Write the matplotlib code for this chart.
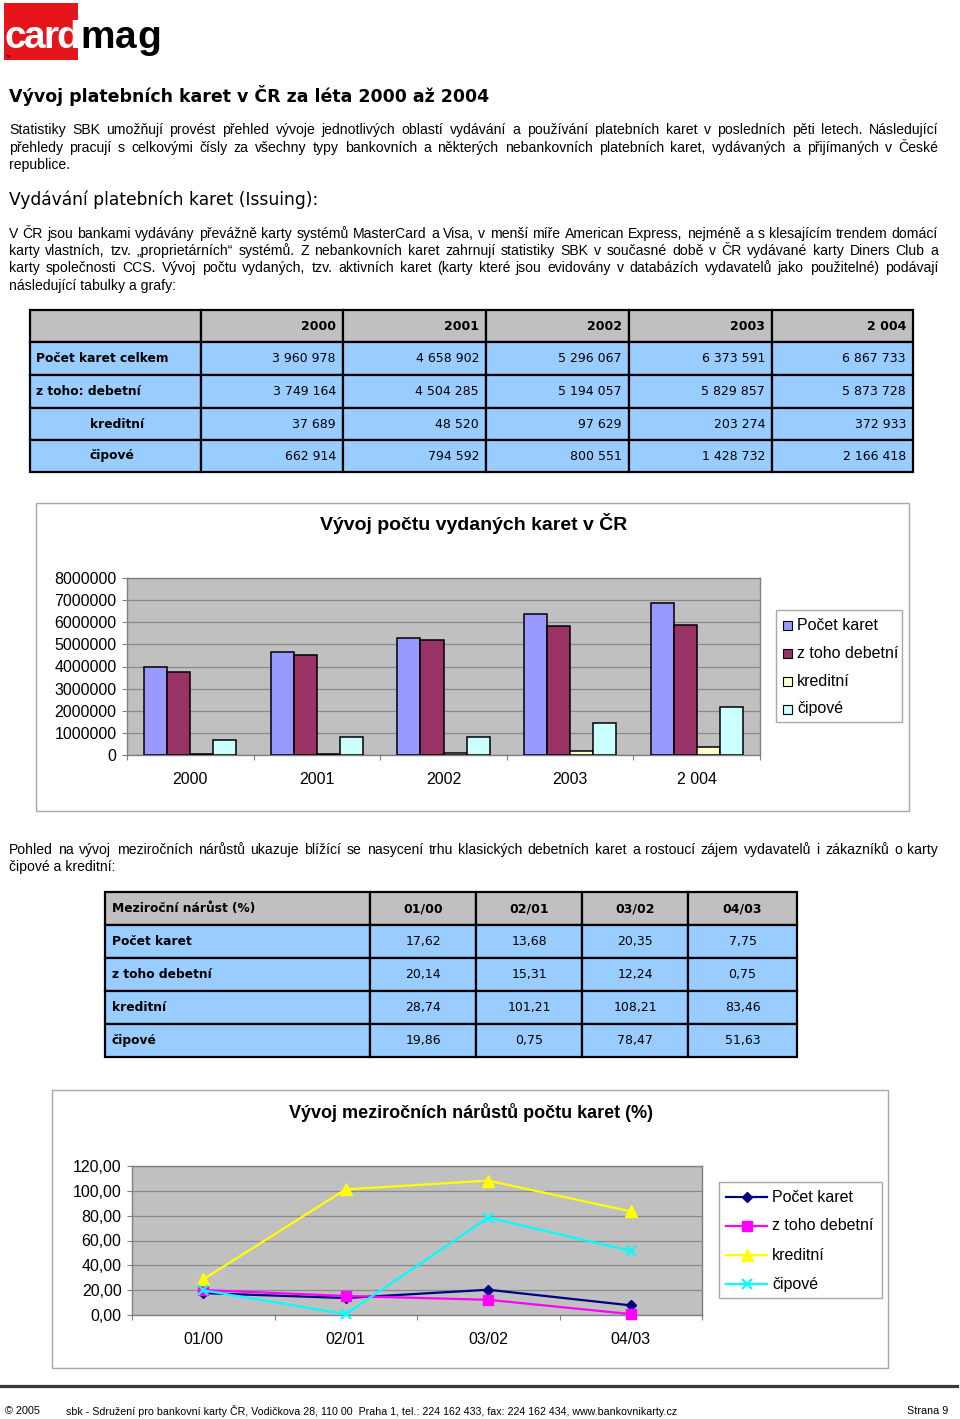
import numpy as np
import matplotlib
matplotlib.use('Agg')
import matplotlib.pyplot as plt
from matplotlib.patches import Rectangle
from matplotlib.lines import Line2D

# ---------------- data ----------------
years = ['2000', '2001', '2002', '2003', '2 004']
row_labels1 = ['Počet karet celkem', 'z toho: debetní', 'kreditní', 'čipové']
total = [3960978, 4658902, 5296067, 6373591, 6867733]
debit = [3749164, 4504285, 5194057, 5829857, 5873728]
credit = [37689, 48520, 97629, 203274, 372933]
chip = [662914, 794592, 800551, 1428732, 2166418]

series_bar = ['Počet karet', 'z toho debetní', 'kreditní', 'čipové']
bar_colors = ['#9999FF', '#993366', '#FFFFCC', '#CCFFFF']

periods = ['01/00', '02/01', '03/02', '04/03']
g_total = [17.62, 13.68, 20.35, 7.75]
g_debit = [20.14, 15.31, 12.24, 0.75]
g_credit = [28.74, 101.21, 108.21, 83.46]
g_chip = [19.86, 0.75, 78.47, 51.63]
growth_header = 'Meziroční nárůst (%)'
row_labels2 = ['Počet karet', 'z toho debetní', 'kreditní', 'čipové']
line_colors = ['#000080', '#FF00FF', '#FFFF00', '#00FFFF']
line_markers = ['D', 's', '^', 'x']
line_msizes = [5.5, 6.5, 8, 7]

yticks1 = [0, 1000000, 2000000, 3000000, 4000000, 5000000, 6000000, 7000000, 8000000]
yticks2 = [0, 20, 40, 60, 80, 100, 120]

title = 'Vývoj platebních karet v ČR za léta 2000 až 2004'
para1 = ['Statistiky SBK umožňují provést přehled vývoje jednotlivých oblastí vydávání a používání platebních karet v posledních pěti letech. Následující',
         'přehledy pracují s celkovými čísly za všechny typy bankovních a některých nebankovních platebních karet, vydávaných a přijímaných v České',
         'republice.']
heading = 'Vydávání platebních karet (Issuing):'
para2 = ['V ČR jsou bankami vydávány převážně karty systémů MasterCard a Visa, v menší míře American Express, nejméně a s klesajícím trendem domácí',
         'karty vlastních, tzv. „proprietárních“ systémů. Z nebankovních karet zahrnují statistiky SBK v současné době v ČR vydávané karty Diners Club a',
         'karty společnosti CCS. Vývoj počtu vydaných, tzv. aktivních karet (karty které jsou evidovány v databázích vydavatelů jako použitelné) podávají',
         'následující tabulky a grafy:']
para3 = ['Pohled na vývoj meziročních nárůstů ukazuje blížící se nasycení trhu klasických debetních karet a rostoucí zájem vydavatelů i zákazníků o karty',
         'čipové a kreditní:']
chart1_title = 'Vývoj počtu vydaných karet v ČR'
chart2_title = 'Vývoj meziročních nárůstů počtu karet (%)'
footer_left = '© 2005'
footer_mid = 'sbk - Sdružení pro bankovní karty ČR, Vodičkova 28, 110 00  Praha 1, tel.: 224 162 433, fax: 224 162 434, www.bankovnikarty.cz'
footer_right = 'Strana 9'
logo_red = 'card'
logo_black = 'mag'

# ---------------- figure ----------------
W, H = 960, 1419
fig = plt.figure(figsize=(W / 100, H / 100), dpi=100)
fig.patch.set_facecolor('white')
bg = fig.add_axes([0, 0, 1, 1])
bg.set_xlim(0, W)
bg.set_ylim(H, 0)
bg.axis('off')
R = fig.canvas.get_renderer()

BODY = 'DejaVu Sans'
TEXT = 'Liberation Sans'
CHART = 'Liberation Sans'


def px_axes(l, t, r, b):
    return fig.add_axes([l / W, 1 - b / H, (r - l) / W, (b - t) / H])


def width_of(t):
    return t.get_window_extent(R).width


def fit(x, y, s, target_w, size0=10, ha='left', **kw):
    t = bg.text(x, y, s, fontsize=size0, ha=ha, va='center', **kw)
    w = width_of(t)
    t.set_fontsize(size0 * target_w / w)
    return t


def justify_line(x0, x1, y, line, size, just=True):
    base = y + 0.30 * size * 100 / 72
    kw = dict(fontsize=size, family=TEXT, va='baseline', color='black')
    if not just:
        bg.text(x0, base, line, **kw)
        return
    words = line.split(' ')
    ts = [bg.text(0, base, w, **kw) for w in words]
    ws = [width_of(t) for t in ts]
    gap = (x1 - x0 - sum(ws)) / (len(ws) - 1)
    x = x0
    for t, w in zip(ts, ws):
        t.set_x(x)
        x += w + gap


def spaced_word(x0, x1, y, word, size, **kw):
    ts = [bg.text(0, y, ch, fontsize=size, va='baseline', **kw) for ch in word]
    ws = [width_of(t) for t in ts]
    f = (x1 - x0) / sum(ws)
    x = x0
    for t, w in zip(ts, ws):
        t.set_x(x)
        x += w * f


# ---- logo ----
bg.add_patch(Rectangle((4, 3), 74, 57, facecolor='#E5151B', edgecolor='none'))
spaced_word(4, 78, 48, logo_red, 28, color='white', family=CHART, weight='bold')
spaced_word(80, 161, 48, logo_black, 28, color='black', family=CHART, weight='bold')
bg.text(5, 57, 'TM', fontsize=3, color='#400000', va='center')

# ---- title ----
fit(9, 96, title, 479, 14, family=BODY, weight='bold')

# ---- body text size ----
X0, X1 = 9, 938
just_lines = [para1[0], para1[1], para2[0], para2[1], para2[2], para3[0]]
s0 = 9.0
nat = []
for ln in just_lines:
    t = bg.text(0, 0, ln, fontsize=s0, family=TEXT)
    nat.append(width_of(t))
    t.remove()
body_size = s0 * min((X1 - X0) / w for w in nat) * 0.99

for ln, y in zip(para1, [130, 147.5, 165]):
    justify_line(X0, X1, y, ln, body_size, just=(ln != para1[-1]))

fit(9, 200, heading, 309, 14, family=BODY)

for ln, y in zip(para2, [234, 251, 268, 286]):
    justify_line(X0, X1, y, ln, body_size, just=(ln != para2[-1]))

for ln, y in zip(para3, [850, 867]):
    justify_line(X0, X1, y, ln, body_size, just=(ln != para3[-1]))

# ---- table 1 ----
HEAD = '#C0C0C0'
CELL = '#99CCFF'
cols1 = [30, 201, 343, 486, 629, 772, 913]
rows1 = [310, 342, 375, 408, 440, 472]
tab_size = 9.0
data1 = [total, debit, credit, chip]
for r in range(5):
    for c in range(6):
        fc = HEAD if r == 0 else CELL
        bg.add_patch(Rectangle((cols1[c], rows1[r]), cols1[c + 1] - cols1[c], rows1[r + 1] - rows1[r],
                               facecolor=fc, edgecolor='black', lw=1.6))
for c in range(5):
    yc = (rows1[0] + rows1[1]) / 2
    bg.text(cols1[c + 2] - 7, yc, years[c], ha='right', va='center', fontsize=tab_size,
            weight='bold', family=BODY)
for r in range(4):
    yc = (rows1[r + 1] + rows1[r + 2]) / 2
    lx = 36 if r < 2 else 90
    bg.text(lx, yc, row_labels1[r], ha='left', va='center', fontsize=8.8, weight='bold', family=BODY)
    for c in range(5):
        s = f"{data1[r][c]:,}".replace(',', ' ')
        bg.text(cols1[c + 2] - 7, yc, s, ha='right', va='center', fontsize=tab_size, family=BODY)

# ---- chart 1 frame ----
bg.add_patch(Rectangle((36, 503), 909 - 36, 811 - 503, facecolor='white', edgecolor='#A8A8A8', lw=1))
bg.text(474, 524, chart1_title, ha='center', va='center', fontsize=14, weight='bold', family=CHART)

ax1 = px_axes(127, 578, 760, 755)
ax1.set_facecolor('#C0C0C0')
x = np.arange(len(years))
bw = 1 / 5.5
bar_data = [total, debit, credit, chip]
for i, (vals, col) in enumerate(zip(bar_data, bar_colors)):
    ax1.bar(x + (i - 1.5) * bw, vals, width=bw, color=col, edgecolor='black', lw=1.1, zorder=3,
            label=series_bar[i])
ax1.set_xlim(-0.5, len(years) - 0.5)
ax1.set_ylim(0, 8000000)
ax1.set_yticks(yticks1)
ax1.set_yticklabels([str(v) for v in yticks1], fontsize=11.5, family=CHART)
ax1.yaxis.grid(True, color='#8A8A8A', lw=0.9, zorder=0)
ax1.set_axisbelow(True)
ax1.set_xticks(np.arange(-0.5, len(years), 1.0))
ax1.set_xticklabels([])
ax1.set_xticks(x, minor=True)
ax1.set_xticklabels(years, minor=True, fontsize=11.5, family=CHART)
ax1.tick_params(axis='x', which='major', length=3.5, color='#808080', direction='out')
ax1.tick_params(axis='x', which='minor', length=0, pad=12.5)
ax1.tick_params(axis='y', length=3.5, color='#808080', pad=4)
for sp in ax1.spines.values():
    sp.set_color('#808080')
    sp.set_linewidth(1.0)

# legend 1
bg.add_patch(Rectangle((776, 610), 902 - 776, 722 - 610, facecolor='white', edgecolor='#A8A8A8', lw=1))
for i, (lab, col) in enumerate(zip(series_bar, bar_colors)):
    yy = 625 + i * 28
    bg.add_patch(Rectangle((783, yy - 4.5), 9, 9, facecolor=col, edgecolor='black', lw=0.8))
    bg.text(797, yy, lab, ha='left', va='center', fontsize=11.5, family=CHART)

# ---- table 2 ----
cols2 = [105, 370, 476, 582, 688, 797]
rows2 = [892, 925, 958, 991, 1024, 1057]
data2 = [g_total, g_debit, g_credit, g_chip]
for r in range(5):
    for c in range(5):
        fc = HEAD if r == 0 else CELL
        bg.add_patch(Rectangle((cols2[c], rows2[r]), cols2[c + 1] - cols2[c], rows2[r + 1] - rows2[r],
                               facecolor=fc, edgecolor='black', lw=1.6))
yc = (rows2[0] + rows2[1]) / 2
bg.text(112, yc, growth_header, ha='left', va='center', fontsize=8.8, weight='bold', family=BODY)
for c in range(4):
    bg.text((cols2[c + 1] + cols2[c + 2]) / 2, yc, periods[c], ha='center', va='center',
            fontsize=tab_size, weight='bold', family=BODY)
for r in range(4):
    yc = (rows2[r + 1] + rows2[r + 2]) / 2
    bg.text(112, yc, row_labels2[r], ha='left', va='center', fontsize=8.8, weight='bold', family=BODY)
    for c in range(4):
        s = f"{data2[r][c]:.2f}".replace('.', ',')
        bg.text((cols2[c + 1] + cols2[c + 2]) / 2, yc, s, ha='center', va='center',
                fontsize=tab_size, family=BODY)

# ---- chart 2 ----
bg.add_patch(Rectangle((52, 1090), 888 - 52, 1368 - 1090, facecolor='white', edgecolor='#A8A8A8', lw=1))
bg.text(471, 1112, chart2_title, ha='center', va='center', fontsize=13, weight='bold', family=CHART)

ax2 = px_axes(132, 1166, 702, 1315)
ax2.set_facecolor('#C0C0C0')
xp = np.arange(len(periods))
for vals, col, mk, ms, lab in zip(data2, line_colors, line_markers, line_msizes, row_labels2):
    ax2.plot(xp, vals, color=col, marker=mk, markersize=ms, markerfacecolor=col,
             markeredgecolor=col, mew=1.6 if mk == 'x' else 1, lw=1.6, zorder=3, clip_on=False,
             label=lab)
ax2.set_xlim(-0.5, len(periods) - 0.5)
ax2.set_ylim(0, 120)
ax2.set_yticks(yticks2)
ax2.set_yticklabels([f"{v:.2f}".replace('.', ',') for v in yticks2], fontsize=11.5, family=CHART)
ax2.yaxis.grid(True, color='#8A8A8A', lw=0.9, zorder=0)
ax2.set_axisbelow(True)
ax2.set_xticks(np.arange(-0.5, len(periods), 1.0))
ax2.set_xticklabels([])
ax2.set_xticks(xp, minor=True)
ax2.set_xticklabels(periods, minor=True, fontsize=11.5, family=CHART)
ax2.tick_params(axis='x', which='major', length=3.5, color='#808080', direction='out')
ax2.tick_params(axis='x', which='minor', length=0, pad=12.5)
ax2.tick_params(axis='y', length=3.5, color='#808080', pad=4)
for sp in ax2.spines.values():
    sp.set_color('#808080')
    sp.set_linewidth(1.0)

# legend 2
bg.add_patch(Rectangle((719, 1182), 882 - 719, 1298 - 1182, facecolor='white', edgecolor='#A8A8A8', lw=1))
for i, (lab, col, mk, ms) in enumerate(zip(row_labels2, line_colors, line_markers, line_msizes)):
    yy = 1197 + i * 29
    bg.add_line(Line2D([726, 767], [yy, yy], color=col, lw=1.6))
    bg.add_line(Line2D([746.5], [yy], color=col, marker=mk, markersize=ms, markerfacecolor=col,
                       markeredgecolor=col, mew=1.6 if mk == 'x' else 1))
    bg.text(772, yy, lab, ha='left', va='center', fontsize=11.5, family=CHART)

# ---- footer ----
bg.add_line(Line2D([0, 957], [1386, 1386], color='#3A3A3A', lw=2.3))
fit(5, 1411, footer_left, 35, 8, family=TEXT)
fit(66, 1411, footer_mid, 610, 8, family=TEXT)
fit(948, 1411, footer_right, 41, 8, ha='right', family=TEXT)

fig.savefig('out.png', dpi=100)
